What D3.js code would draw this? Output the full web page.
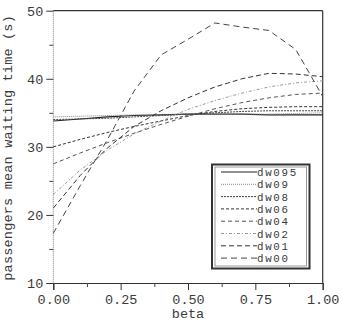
<!DOCTYPE html>
<html>
<head>
<meta charset="utf-8">
<script src="https://cdn.jsdelivr.net/npm/d3@7"></script>
<style>
  body { margin: 0; background: #fff; }
  text { font-family: "Liberation Mono", "DejaVu Sans Mono", monospace; fill: #3a3a3a; }
</style>
</head>
<body>
<svg width="343" height="323"></svg>
<script>
// beta values on the x axis
const betas = [0, 0.1, 0.2, 0.3, 0.4, 0.5, 0.6, 0.7, 0.8, 0.9, 1.0];

// mean waiting time (s) per series
const dw095 = [33.8, 34.1, 34.4, 34.6, 34.7, 34.8, 34.8, 34.8, 34.7, 34.7, 34.7];
const dw09  = [34.4, 34.5, 34.6, 34.7, 34.7, 34.8, 34.8, 34.8, 34.8, 34.9, 35.0];
const dw08  = [34.0, 34.1, 34.2, 34.4, 34.6, 34.8, 35.0, 35.2, 35.3, 35.3, 35.3];
const dw06  = [30.0, 31.1, 32.1, 33.0, 33.8, 34.6, 35.2, 35.6, 35.8, 35.9, 35.9];
const dw04  = [27.5, 29.1, 30.6, 32.0, 33.3, 34.5, 35.6, 36.5, 37.2, 37.7, 37.9];
const dw02  = [23.0, 26.6, 29.5, 31.9, 33.8, 35.5, 36.8, 37.9, 38.8, 39.4, 39.7];
const dw01  = [21.0, 25.8, 29.8, 33.0, 35.3, 37.2, 38.8, 40.0, 40.8, 40.7, 40.3];
const dw00  = [17.3, 24.3, 31.0, 38.2, 43.5, 45.8, 48.2, 47.6, 47.1, 44.3, 37.4];

const seriesNames = ["dw095", "dw09", "dw08", "dw06", "dw04", "dw02", "dw01", "dw00"];
const seriesValues = [dw095, dw09, dw08, dw06, dw04, dw02, dw01, dw00];

const xTicks = [0, 0.25, 0.5, 0.75, 1.0];
const xMinor = [0.125, 0.375, 0.625, 0.875];
const yTicks = [10, 20, 30, 40, 50];
const yMinor = [15, 25, 35, 45];

// dash pattern + colour for each series (same order as names)
const styles = [
    { dash: null,        color: "#222", w: 1.1 },
    { dash: "1,1",       color: "#888", w: 1 },
    { dash: "2,1",       color: "#444", w: 1 },
    { dash: "3,2",       color: "#333", w: 1 },
    { dash: "4,3",       color: "#555", w: 1 },
    { dash: "3,2,1,2",   color: "#999", w: 1 },
    { dash: "5,3",       color: "#333", w: 1 },
    { dash: "6,4",       color: "#444", w: 1 }
];

function draw() {
    const svg = d3.select("svg");
    svg.selectAll("*").remove();

    const x = d3.scaleLinear().domain([0, 1]).range([53.3, 322.7]);
    const y = d3.scaleLinear().domain([10, 50]).range([283, 10.7]);

    // frame: top and right solid, left dotted grey
    svg.append("line")
        .attr("x1", x(0)).attr("x2", x(1))
        .attr("y1", y(50)).attr("y2", y(50))
        .attr("stroke", "#333").attr("stroke-width", 1.2);
    svg.append("line")
        .attr("x1", x(1)).attr("x2", x(1))
        .attr("y1", y(50)).attr("y2", y(10))
        .attr("stroke", "#333").attr("stroke-width", 1.2);
    svg.append("line")
        .attr("x1", x(0)).attr("x2", x(0))
        .attr("y1", y(50)).attr("y2", y(10))
        .attr("stroke", "#777").attr("stroke-width", 1)
        .attr("stroke-dasharray", "1,1");

    // x axis
    const xAxis = svg.append("g")
        .attr("transform", `translate(0,${y(10)})`)
        .call(d3.axisBottom(x).tickValues(xTicks).tickSize(7).tickPadding(4)
            .tickFormat(d3.format(".2f")));
    xAxis.select(".domain").attr("stroke", "#333").attr("stroke-width", 1.2);
    xAxis.selectAll(".tick line").attr("stroke", "#333");
    xAxis.selectAll("text").attr("font-size", 13.5).attr("fill", "#3a3a3a")
        .attr("font-family", "Liberation Mono, monospace");

    const xAxisMinor = svg.append("g")
        .attr("transform", `translate(0,${y(10)})`)
        .call(d3.axisBottom(x).tickValues(xMinor).tickSize(4).tickFormat(""));
    xAxisMinor.select(".domain").remove();
    xAxisMinor.selectAll(".tick line").attr("stroke", "#444");

    // y axis
    const yAxis = svg.append("g")
        .attr("transform", `translate(${x(0)},0)`)
        .call(d3.axisLeft(y).tickValues(yTicks).tickSize(7).tickPadding(3));
    yAxis.select(".domain").remove();
    yAxis.selectAll(".tick line").attr("stroke", "#333");
    yAxis.selectAll("text").attr("font-size", 13.5).attr("fill", "#3a3a3a")
        .attr("font-family", "Liberation Mono, monospace");

    const yAxisMinor = svg.append("g")
        .attr("transform", `translate(${x(0)},0)`)
        .call(d3.axisLeft(y).tickValues(yMinor).tickSize(4).tickFormat(""));
    yAxisMinor.select(".domain").remove();
    yAxisMinor.selectAll(".tick line").attr("stroke", "#444");

    // axis titles
    svg.append("text")
        .attr("x", (x(0) + x(1)) / 2)
        .attr("y", 318)
        .attr("text-anchor", "middle")
        .attr("font-size", 13.5)
        .text("beta");

    svg.append("text")
        .attr("transform", `translate(12,${(y(10) + y(50)) / 2 + 1}) rotate(-90)`)
        .attr("text-anchor", "middle")
        .attr("font-size", 13.5)
        .attr("letter-spacing", 0.2)
        .text("passengers mean waiting time (s)");

    // series lines
    const line = d3.line()
        .x((d, i) => x(betas[i]))
        .y(d => y(d));

    const lines = svg.append("g").attr("class", "lines");
    seriesValues.forEach((vals, k) => {
        lines.append("path")
            .datum(vals)
            .attr("d", line)
            .attr("fill", "none")
            .attr("stroke", styles[k].color)
            .attr("stroke-width", styles[k].w)
            .attr("stroke-dasharray", styles[k].dash);
    });

    // legend box
    const lg = svg.append("g").attr("class", "legend");
    lg.append("rect")
        .attr("x", 212).attr("y", 164.5)
        .attr("width", 97.5).attr("height", 104)
        .attr("fill", "#fff")
        .attr("stroke", "#333").attr("stroke-width", 2);
    lg.append("rect")
        .attr("x", 215).attr("y", 167)
        .attr("width", 91.5).attr("height", 99)
        .attr("fill", "none")
        .attr("stroke", "#999").attr("stroke-width", 1);

    seriesNames.forEach((name, k) => {
        const ry = 172 + k * 12.3;
        lg.append("line")
            .attr("x1", 221).attr("x2", 257)
            .attr("y1", ry).attr("y2", ry)
            .attr("stroke", styles[k].color)
            .attr("stroke-width", styles[k].w)
            .attr("stroke-dasharray", styles[k].dash);
        lg.append("text")
            .attr("x", 257)
            .attr("y", ry + 4)
            .attr("font-size", 10.8)
            .attr("letter-spacing", 1.7)
            .text(name);
    });
}

document.addEventListener("DOMContentLoaded", draw);
</script>
</body>
</html>
